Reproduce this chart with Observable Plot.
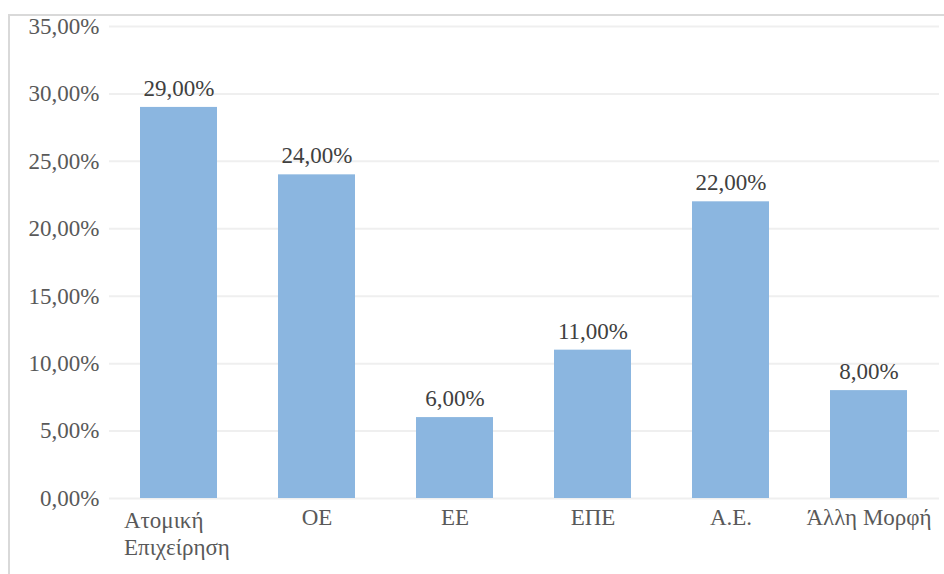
<!DOCTYPE html>
<html>
<head>
<meta charset="utf-8">
<script src="https://cdn.jsdelivr.net/npm/d3@7"></script>
<script src="https://cdn.jsdelivr.net/npm/@observablehq/plot@0.6"></script>
<style>
  html, body { margin: 0; padding: 0; background: #fff; }
  #wrap { position: relative; width: 944px; height: 574px; overflow: hidden; }
  #frame { position: absolute; left: 8px; top: 14px; width: 960px; height: 600px;
           border-left: 2px solid #d9d9d9; border-top: 2px solid #d9d9d9; box-sizing: border-box; }
  #chart { position: absolute; left: 0; top: 0; }
  #chart svg, #chart svg text { font-family: "Liberation Serif", "DejaVu Serif", serif !important; }
</style>
</head>
<body>
<div id="wrap"><div id="frame"></div><div id="chart"></div></div>
<script>
const categories = ["Ατομική\nΕπιχείρηση", "ΟΕ", "ΕΕ", "ΕΠΕ", "Α.Ε.", "Άλλη Μορφή"];
const shares = [0.29, 0.24, 0.06, 0.11, 0.22, 0.08];
const yTicks = [0, 0.05, 0.10, 0.15, 0.20, 0.25, 0.30, 0.35];

const data = categories.map((c, i) => ({ category: c, share: shares[i] }));
const pct = v => d3.format(".2%")(v).replace(".", ",");

const chart = Plot.plot({
  width: 944,
  height: 574,
  marginLeft: 109,
  marginRight: 5,
  marginTop: 26,
  marginBottom: 76,
  style: { fontSize: "23px", background: "transparent", overflow: "visible" },
  x: { domain: categories, paddingInner: 0.44, paddingOuter: 0.22, label: null },
  y: { domain: [0, 0.35], ticks: yTicks, label: null },
  marks: [
    Plot.gridY(yTicks, { stroke: "#efefef", strokeOpacity: 1, strokeWidth: 2 }),
    Plot.barY(data, { x: "category", y: "share", fill: "#8bb6e0" }),
    Plot.ruleY([0], { stroke: "#bfbfbf", strokeWidth: 3, x1: 109, x2: 944 }),
    Plot.axisY(yTicks, { tickSize: 0, tickPadding: 10, tickFormat: pct, fill: "#595959", fontSize: 23 }),
    Plot.axisX(categories.slice(1), { tickSize: 0, tickPadding: 10, fill: "#595959", fontSize: 23, label: null }),
    Plot.axisX(categories.slice(0, 1), { tickSize: 0, tickPadding: 10, fill: "#595959", fontSize: 23, lineHeight: 1.17, textAnchor: "start", dx: -55, label: null }),
    Plot.text(data, { x: "category", y: "share", text: d => pct(d.share), dy: -19, fill: "#404040", fontSize: 23 })
  ]
});
document.getElementById("chart").appendChild(chart);
</script>
</body>
</html>
